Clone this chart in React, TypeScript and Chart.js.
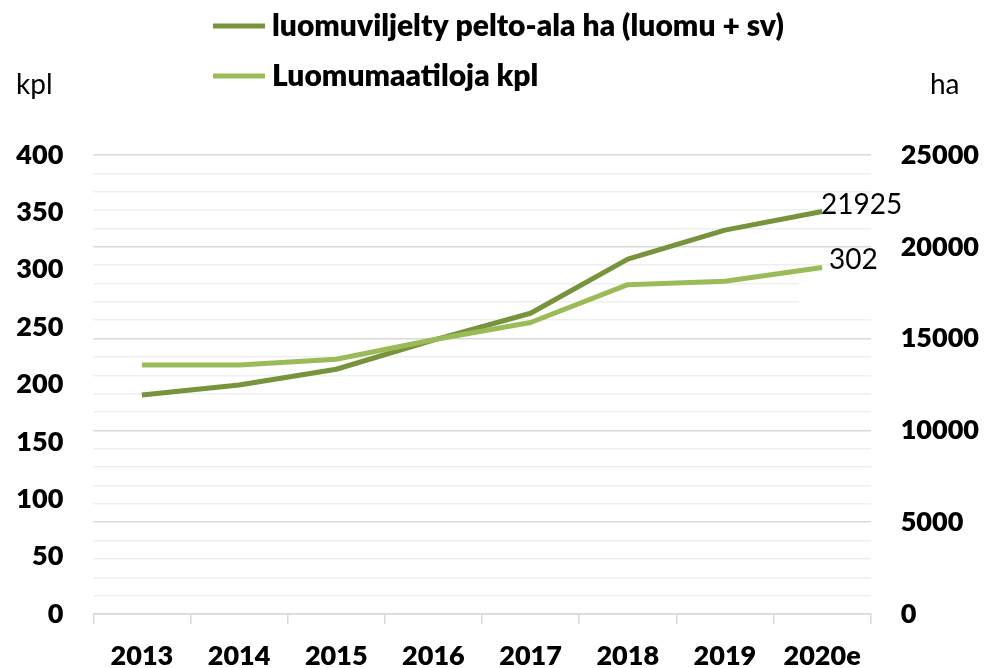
import React, { useEffect, useRef } from 'react';
import { Chart, registerables } from 'chart.js';

Chart.register(...registerables);

// ---- data ----
const categories = ['2013', '2014', '2015', '2016', '2017', '2018', '2019', '2020e'];
const areaHa = [11930, 12470, 13330, 14920, 16380, 19330, 20910, 21925];
const farmsKpl = [217, 217, 222, 239, 254, 287, 290, 302];
const areaLabel = 'luomuviljelty pelto-ala ha (luomu + sv)';
const farmsLabel = 'Luomumaatiloja kpl';
const leftUnit = 'kpl';
const rightUnit = 'ha';
const leftMax = 400;
const leftStep = 50;
const rightMax = 25000;
const rightMajor = 5000;
const rightMinor = 1000;

const DARK = '#77933c';
const LIGHT = '#9bbb59';
const FONT = 'Lato, "DejaVu Sans", sans-serif';

const W = 987;
const H = 668;

const overlayPlugin = {
  id: 'overlay',
  beforeDatasetsDraw(chart: any) {
    // white background of the "302" label box hides part of two grid lines
    const ctx = chart.ctx;
    const y = chart.scales.yR;
    const top = y.getPixelForValue(18500);
    const bot = y.getPixelForValue(16500);
    ctx.save();
    ctx.fillStyle = '#ffffff';
    ctx.fillRect(799, top, chart.chartArea.right - 799 + 1, bot - top);
    ctx.restore();
  },
  afterDatasetsDraw(chart: any) {
    const ctx = chart.ctx;
    ctx.save();
    ctx.font = `28px ${FONT}`;
    ctx.fillStyle = '#000';
    ctx.textAlign = 'left';
    ctx.textBaseline = 'middle';
    const offs = [
      { dx: -1, dy: -6 },
      { dx: 7, dy: -7 },
    ];
    chart.data.datasets.forEach((ds: any, i: number) => {
      const meta = chart.getDatasetMeta(i);
      const pt = meta.data[meta.data.length - 1];
      const v = ds.data[ds.data.length - 1];
      ctx.fillText(String(v), pt.x + offs[i].dx, pt.y + offs[i].dy);
    });
    ctx.restore();
  },
  afterDraw(chart: any) {
    const ctx = chart.ctx;
    ctx.save();
    // legend
    const items = [
      { label: areaLabel, color: DARK, y: 26 },
      { label: farmsLabel, color: LIGHT, y: 76 },
    ];
    items.forEach((it) => {
      ctx.strokeStyle = it.color;
      ctx.lineWidth = 5;
      ctx.beginPath();
      ctx.moveTo(213, it.y);
      ctx.lineTo(265, it.y);
      ctx.stroke();
      ctx.fillStyle = '#000';
      ctx.font = `800 30px ${FONT}`;
      ctx.textAlign = 'left';
      ctx.textBaseline = 'middle';
      ctx.fillText(it.label, 272, it.y);
    });
    // axis units
    ctx.font = `28px ${FONT}`;
    ctx.fillStyle = '#000';
    ctx.textBaseline = 'middle';
    ctx.textAlign = 'left';
    ctx.fillText(leftUnit, 16, 85);
    ctx.fillText(rightUnit, 930, 85);
    ctx.restore();
  },
};

export default function App() {
  const ref = useRef<HTMLCanvasElement>(null);

  useEffect(() => {
    if (!ref.current) return;
    const tickFont = { family: FONT, size: 27, weight: '800' as any };
    const chart = new Chart(ref.current, {
      type: 'line',
      data: {
        labels: categories,
        datasets: [
          {
            label: areaLabel,
            data: areaHa,
            yAxisID: 'yR',
            borderColor: DARK,
            backgroundColor: DARK,
            borderWidth: 5,
            pointRadius: 0,
            tension: 0,
            borderJoinStyle: 'round',
            order: 2,
          },
          {
            label: farmsLabel,
            data: farmsKpl,
            yAxisID: 'yL',
            borderColor: LIGHT,
            backgroundColor: LIGHT,
            borderWidth: 5,
            pointRadius: 0,
            tension: 0,
            borderJoinStyle: 'round',
            order: 1,
          },
        ],
      },
      options: {
        responsive: false,
        animation: false,
        layout: { padding: { top: 155, left: 0, right: 0, bottom: 0 } },
        plugins: { legend: { display: false }, tooltip: { enabled: false } },
        scales: {
          x: {
            offset: true,
            grid: {
              offset: true,
              drawOnChartArea: false,
              drawTicks: true,
              tickLength: 10,
              color: '#d9d9d9',
              lineWidth: 1.5,
            },
            border: { display: true, color: '#d9d9d9', width: 1.5 },
            ticks: {
              font: tickFont,
              color: '#000',
              padding: 16,
              maxRotation: 0,
              autoSkip: false,
            },
            afterFit: (s: any) => {
              s.height = 54;
            },
          },
          yL: {
            position: 'left',
            min: 0,
            max: leftMax,
            grid: { display: false, drawTicks: false },
            border: { display: false },
            ticks: {
              stepSize: leftStep,
              padding: 30,
              font: tickFont,
              color: '#000',
              callback: (v: any) => String(v),
            },
            afterFit: (s: any) => {
              s.width = 93.3;
            },
          },
          yR: {
            position: 'right',
            min: 0,
            max: rightMax,
            grid: {
              drawTicks: false,
              lineWidth: 1.5,
              color: (c: any) =>
                c.tick && c.tick.value % rightMajor === 0 ? '#d9d9d9' : '#efefef',
            },
            border: { display: false },
            ticks: {
              stepSize: rightMinor,
              autoSkip: false,
              padding: 30,
              font: tickFont,
              color: '#000',
              callback: (v: any) => (Number(v) % rightMajor === 0 ? String(v) : ''),
            },
            afterFit: (s: any) => {
              s.width = 116.3;
            },
          },
        },
      },
      plugins: [overlayPlugin],
    } as any);
    return () => chart.destroy();
  }, []);

  return (
    <div style={{ position: 'absolute', left: 0, top: 0, width: W, height: H }}>
      <canvas ref={ref} width={W} height={H} style={{ display: 'block' }} />
    </div>
  );
}
